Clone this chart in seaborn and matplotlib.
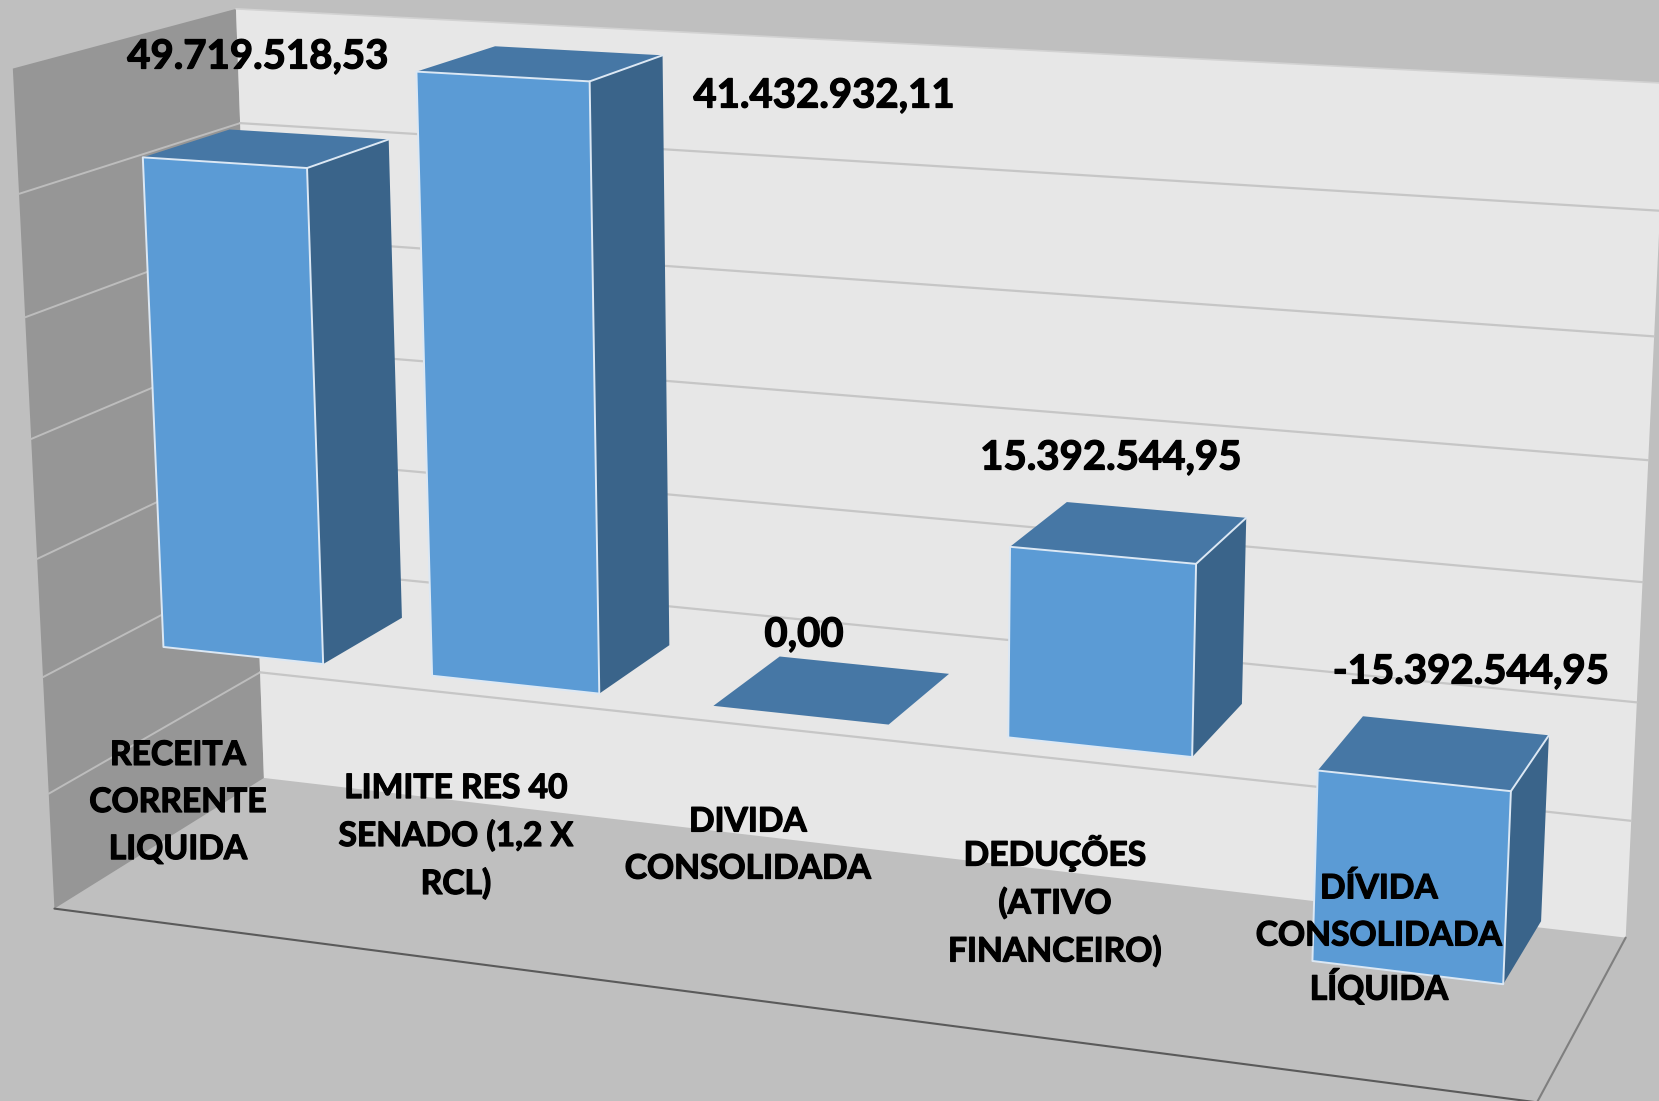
import numpy as np
import pandas as pd
import matplotlib
matplotlib.use("Agg")
import matplotlib.pyplot as plt
import matplotlib.patheffects as pe
from matplotlib.patches import Polygon
import seaborn as sns

# ---- data -------------------------------------------------------------
categories = ["RECEITA\nCORRENTE\nLIQUIDA", "LIMITE RES 40\nSENADO (1,2 X\nRCL)",
              "DIVIDA\nCONSOLIDADA", "DEDUÇÕES\n(ATIVO\nFINANCEIRO)",
              "DÍVIDA\nCONSOLIDADA\nLÍQUIDA"]
bar_values = [41432932.11, 49719518.53, 0.0, 15392544.95, -15392544.95]
value_labels = ["49.719.518,53", "41.432.932,11", "0,00", "15.392.544,95", "-15.392.544,95"]
axis_ticks = [-20, -10, 0, 10, 20, 30, 40, 50]   # millions

# ---- layout / style ----------------------------------------------------
W, H = 1659, 1101
BG, FLOOR, LEFT_WALL, BACK_WALL = "#BFBFBF", "#BFBFBF", "#969696", "#E7E7E7"
FRONT, TOP, SIDE, EDGE = "#5B9BD5", "#4677A5", "#3A648A", "#DCE8F4"
GRID_BACK, GRID_LEFT = "#C6C6C6", "#BDBDBD"
BAR_WIDTH, DEPTH_FRONT, DEPTH_BACK = 0.6, 0.3, 0.7
value_label_xy = [(258, 57), (824, 96), (804, 635), (1111, 458), (1471, 672)]
cat_label_xy = [(178, 802), (456, 836), (748, 845), (1055, 901), (1379, 939)]

# Perspective camera of the 3-D chart box: (category, value in millions, depth) -> pixel
camera_world = [(0, 50, 0), (0, -20, 0), (0, -10, 0), (0, 50, 1), (0, -20, 1), (0, -10, 1),
                (5, 50, 1), (5, -20, 1), (5, -20, 0), (5, -10, 1), (0, 40, 0), (0, 40, 1)]
camera_image = [(13, 69), (54, 908), (49, 795), (236, 9), (264, 777), (260, 673),
                (1666, 83), (1626, 937), (1537, 1102), (1631, 822), (19, 193), (240, 123)]
rows = []
for (X, Y, Z), (u, v) in zip(camera_world, camera_image):
    rows.append([X, Y, Z, 1, 0, 0, 0, 0, -u * X, -u * Y, -u * Z, -u])
    rows.append([0, 0, 0, 0, X, Y, Z, 1, -v * X, -v * Y, -v * Z, -v])
scale = np.array([5, 50, 1, 1, 5, 50, 1, 1, 5000, 50000, 1000, 1000.0])
P = (np.linalg.svd(np.array(rows, float) / scale)[2][-1] / scale).reshape(3, 4)


def proj(X, Y, Z):
    h = P @ np.array([X, Y, Z, 1.0])
    return h[:2] / h[2]


sns.set_theme(style="white")
plt.rcParams["font.family"] = ["Lato", "DejaVu Sans"]

fig = plt.figure(figsize=(W / 100, H / 100), dpi=100, facecolor=BG)

# seaborn computes the bar geometry on a hidden data axes
df = pd.DataFrame({"categoria": categories, "valor": bar_values})
data_ax = fig.add_axes([0, 0, 1, 1])
sns.barplot(data=df, x="categoria", y="valor", order=categories, width=BAR_WIDTH, ax=data_ax)
bars = list(data_ax.patches)
bar_geom = [(b.get_x() + 0.5, b.get_x() + 0.5 + b.get_width(),
             min(b.get_y(), b.get_y() + b.get_height()) / 1e6,
             max(b.get_y(), b.get_y() + b.get_height()) / 1e6) for b in bars]
data_ax.set_visible(False)

ax = fig.add_axes([0, 0, 1, 1])
ax.set_xlim(0, W)
ax.set_ylim(H, 0)
ax.axis("off")


def face(corners, fc, ec="none", lw=0.0, z=1):
    ax.add_patch(Polygon([proj(*c) for c in corners], closed=True, fc=fc, ec=ec, lw=lw,
                         zorder=z, joinstyle="round"))


def seg(a, b, color, lw, z=2):
    pa, pb = proj(*a), proj(*b)
    ax.plot([pa[0], pb[0]], [pa[1], pb[1]], color=color, lw=lw, zorder=z, solid_capstyle="round")


x0, x1 = 0, len(categories)
y0, y1 = axis_ticks[0], axis_ticks[-1]
face([(x0, y0, 0), (x0, y0, 1), (x1, y0, 1), (x1, y0, 0)], FLOOR)
face([(x0, y0, 0), (x0, y1, 0), (x0, y1, 1), (x0, y0, 1)], LEFT_WALL)
face([(x0, y0, 1), (x0, y1, 1), (x1, y1, 1), (x1, y0, 1)], BACK_WALL)

for t in axis_ticks[1:-1]:
    seg((x0, t, 0), (x0, t, 1), GRID_LEFT, 1.4)
    seg((x0, t, 1), (x1, t, 1), GRID_BACK, 1.6)
seg((x0, y1, 1), (x1, y1, 1), "#D2D2D2", 1.2)
seg((x0, y0, 0), (x1, y0, 0), "#5A5A5A", 1.5)
seg((x1, y0, 0), (x1, y0, 1), "#7F7F7F", 1.5)

for i, (xa, xb, lo, hi) in enumerate(bar_geom):
    z = 3 + i
    if hi > lo:
        face([(xb, lo, DEPTH_FRONT), (xb, hi, DEPTH_FRONT), (xb, hi, DEPTH_BACK), (xb, lo, DEPTH_BACK)],
             SIDE, z=z)
    face([(xa, hi, DEPTH_FRONT), (xb, hi, DEPTH_FRONT), (xb, hi, DEPTH_BACK), (xa, hi, DEPTH_BACK)],
         TOP, z=z)
    if hi > lo:
        face([(xa, lo, DEPTH_FRONT), (xb, lo, DEPTH_FRONT), (xb, hi, DEPTH_FRONT), (xa, hi, DEPTH_FRONT)],
             FRONT, ec=EDGE, lw=1.4, z=z)
        seg((xb, hi, DEPTH_FRONT), (xb, hi, DEPTH_BACK), EDGE, 1.4, z=z)

heavier = [pe.withStroke(linewidth=0.9, foreground="black")]
text_style = dict(ha="center", va="center", fontweight="bold", color="black", zorder=20,
                  path_effects=heavier)
for txt, (px, py) in zip(value_labels, value_label_xy):
    ax.text(px, py, txt, fontsize=28.9, **text_style)
for txt, (px, py) in zip(categories, cat_label_xy):
    ax.text(px, py, txt, fontsize=24.2, linespacing=1.58, multialignment="center", **text_style)

fig.savefig("out.png", dpi=100, facecolor=BG)
